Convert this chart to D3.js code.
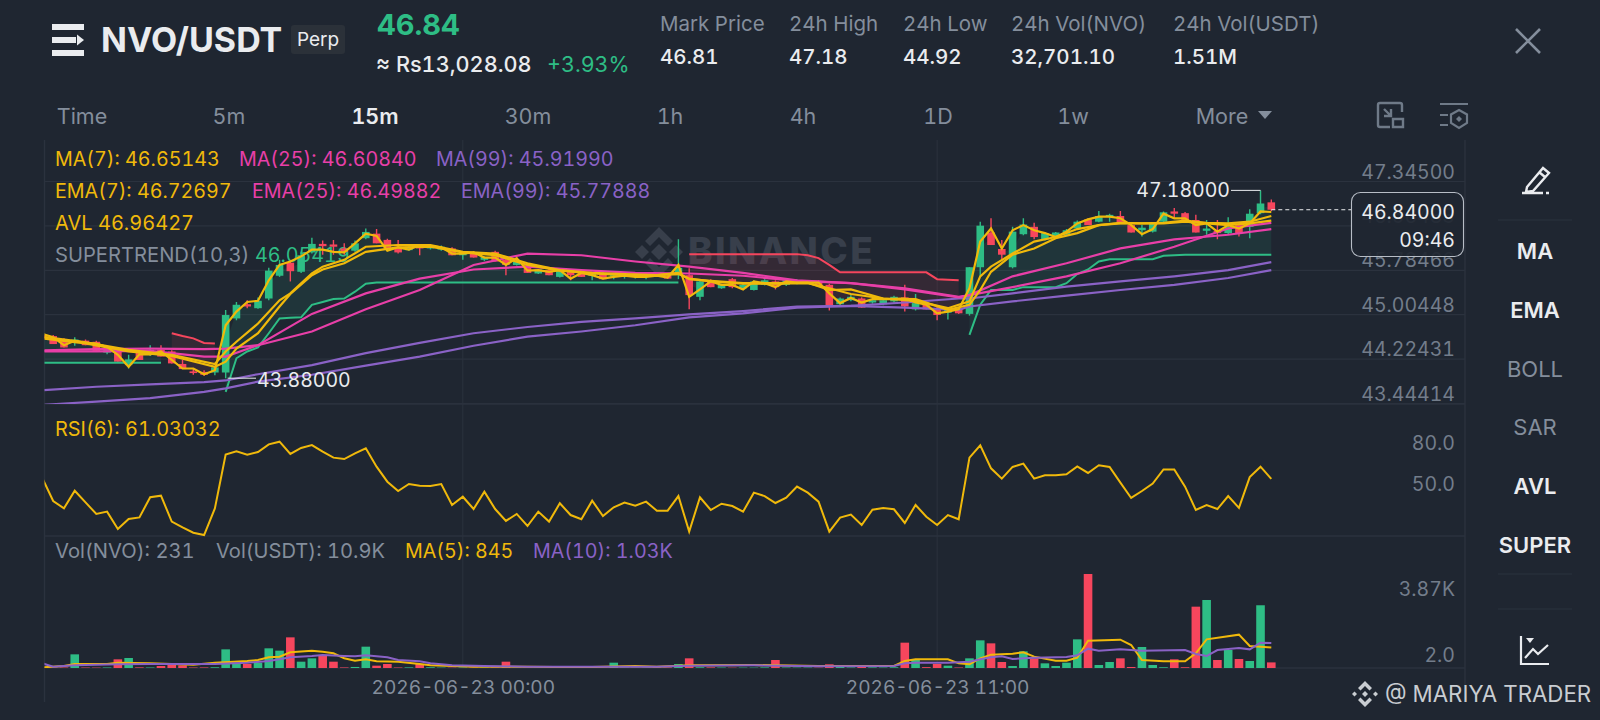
<!DOCTYPE html>
<html>
<head>
<meta charset="utf-8">
<style>
  html, body { margin: 0; padding: 0; background: #1f2631; }
  svg { display: block; font-family: Inter, "Noto Sans", sans-serif; font-variant-numeric: tabular-nums; }
  .domain { display: none; }
</style>
</head>
<body>
<svg id="chart" width="1600" height="720"></svg>
<script src="https://cdn.jsdelivr.net/npm/d3@7"></script>
<script>
// Candles, one per 15 minutes
var opens = [
  44.64,44.62,44.55,44.50,44.54,44.52,44.33,44.38,44.11,44.33,
  44.29,44.38,44.35,44.13,44.00,43.99,43.98,43.98,44.93,45.18,
  45.11,45.28,45.68,45.91,45.75,46.09,46.24,46.23,46.16,46.12,
  46.34,46.42,46.31,46.19,46.13,46.22,46.16,46.14,46.16,46.04,
  46.09,45.96,46.10,45.96,45.87,45.89,45.72,45.78,45.66,45.77,
  45.75,45.68,45.72,45.67,45.66,45.66,45.66,45.71,45.69,45.69,
  45.69,45.31,45.60,45.46,45.62,45.46,45.43,45.52,45.58,45.52,
  45.55,45.55,45.58,45.52,45.18,45.25,45.28,45.21,45.18,45.23,
  45.30,45.09,45.20,45.11,45.03,45.11,45.01,45.83,46.44,46.15,
  45.83,46.41,46.54,46.32,46.36,46.40,46.51,46.67,46.63,46.72,
  46.73,46.57,46.48,46.455,46.63,46.81,46.78,46.66,46.47,46.47,
  46.43,46.57,46.54,46.78,46.97];
var highs = [
  44.66,44.64,44.58,44.60,44.56,44.54,44.38,44.40,44.29,44.36,
  44.46,44.46,44.37,44.20,44.05,44.02,44.10,45.08,45.22,45.25,
  45.30,45.82,45.96,45.93,46.10,46.35,46.30,46.31,46.25,46.30,
  46.51,46.50,46.33,46.31,46.20,46.24,46.22,46.21,46.18,46.10,
  46.11,46.02,46.12,45.98,45.95,45.90,45.80,45.80,45.80,45.79,
  45.77,45.73,45.74,45.70,45.70,45.70,45.70,45.73,45.71,46.32,
  45.81,45.60,45.62,45.54,45.64,45.53,45.60,45.62,45.60,45.62,
  45.62,45.60,45.60,45.54,45.30,45.34,45.30,45.27,45.26,45.33,
  45.52,45.36,45.22,45.13,45.10,45.13,45.83,46.63,46.69,46.31,
  46.54,46.69,46.61,46.44,46.45,46.50,46.65,46.69,46.82,46.77,
  46.82,46.59,46.57,46.62,46.81,46.87,46.80,46.75,46.66,46.66,
  46.71,46.59,46.85,47.18,47.02];
var lows = [
  44.55,44.48,44.42,44.45,44.46,44.36,44.30,44.17,44.05,44.20,
  44.27,44.26,44.14,44.04,43.94,43.92,43.93,43.88,44.90,45.11,
  45.10,45.25,45.66,45.58,45.73,46.07,46.05,46.05,46.05,46.10,
  46.32,46.25,46.16,46.07,46.12,46.04,46.14,46.12,46.04,45.96,
  46.00,45.94,45.93,45.69,45.86,45.73,45.71,45.69,45.65,45.60,
  45.66,45.60,45.62,45.62,45.63,45.63,45.62,45.67,45.63,45.62,
  45.09,45.25,45.48,45.45,45.46,45.45,45.42,45.51,45.44,45.50,
  45.53,45.54,45.50,45.07,45.16,45.23,45.12,45.19,45.16,45.21,
  45.05,45.07,45.09,44.90,44.91,45.01,44.98,45.67,46.22,45.96,
  45.81,46.39,46.32,46.30,46.34,46.38,46.49,46.57,46.62,46.63,
  46.60,46.44,46.37,46.44,46.62,46.69,46.61,46.44,46.40,46.32,
  46.41,46.37,46.34,46.76,46.82];
var closes = [
  44.58,44.48,44.42,44.56,44.46,44.36,44.38,44.17,44.21,44.20,
  44.38,44.26,44.14,44.04,43.97,43.94,44.07,44.99,45.17,45.14,
  45.24,45.77,45.87,45.76,46.04,46.24,46.20,46.19,46.10,46.25,
  46.45,46.25,46.16,46.09,46.19,46.16,46.22,46.19,46.04,46.10,
  46.00,46.01,45.93,45.87,45.93,45.73,45.79,45.69,45.78,45.69,
  45.66,45.72,45.62,45.69,45.69,45.69,45.69,45.67,45.63,45.82,
  45.34,45.58,45.48,45.52,45.48,45.52,45.58,45.60,45.48,45.60,
  45.58,45.58,45.52,45.15,45.28,45.31,45.12,45.25,45.25,45.31,
  45.14,45.20,45.09,44.99,45.08,45.02,45.83,46.56,46.22,46.05,
  46.455,46.58,46.36,46.43,46.44,46.48,46.63,46.57,46.73,46.75,
  46.60,46.44,46.525,46.61,46.795,46.77,46.61,46.44,46.51,46.43,
  46.54,46.43,46.77,46.95,46.84];

// Average line, one per candle
var avl = [
  44.66,44.60,44.46,44.54,44.50,44.49,44.43,44.29,44.08,44.30,
  44.30,44.35,44.20,44.05,44.05,43.95,44.02,44.81,45.05,45.22,
  45.24,45.60,45.87,45.93,46.02,46.14,46.14,46.10,46.09,46.25,
  46.42,46.38,46.12,46.18,46.14,46.22,46.20,46.18,46.07,46.07,
  46.09,46.00,46.00,45.87,45.99,45.77,45.78,45.75,45.78,45.63,
  45.73,45.69,45.63,45.66,45.68,45.66,45.66,45.68,45.65,45.87,
  45.31,45.44,45.58,45.52,45.52,45.44,45.58,45.55,45.48,45.58,
  45.56,45.56,45.56,45.37,45.20,45.29,45.21,45.27,45.27,45.27,
  45.28,45.21,45.17,45.02,45.05,45.09,45.46,46.28,46.51,46.16,
  46.48,46.57,46.48,46.43,46.36,46.455,46.60,46.67,46.72,46.72,
  46.69,46.57,46.41,46.50,46.77,46.69,46.69,46.57,46.60,46.455,
  46.57,46.51,46.60,46.81,46.80];

// Fast averages, read at these candles
var fastIdx = [0,4,8,12,16,17,18,20,22,23,25,26,28,30,33,36,39,42,45,48,51,54,57,59,60,
  62,65,68,71,73,75,78,81,84,86,87,88,90,92,94,96,98,100,102,104,106,108,110,112,114];
var ma7 = [44.58,44.49,44.35,44.27,44.08,44.17,44.40,44.67,45.14,45.36,45.69,45.79,45.90,46.10,46.18,46.19,46.09,46.04,45.87,45.77,45.72,45.69,45.69,45.71,45.63,
  45.58,45.54,45.54,45.55,45.46,45.36,45.28,45.27,45.08,45.17,45.43,45.75,46.05,46.16,46.34,46.43,46.57,46.60,46.60,46.60,46.63,46.60,46.57,46.60,46.65];
var ema7 = [44.61,44.51,44.38,44.29,44.13,44.35,44.52,44.84,45.25,45.37,45.72,45.84,45.96,46.19,46.22,46.22,46.10,46.07,45.90,45.78,45.73,45.71,45.69,45.73,45.62,
  45.59,45.55,45.55,45.56,45.43,45.44,45.28,45.24,45.11,45.23,45.67,45.84,46.07,46.28,46.36,46.50,46.57,46.61,46.60,46.61,46.65,46.61,46.60,46.63,46.73];

// Slow averages, read at these candles
var slowIdx = [0,5,10,15,17,20,25,30,35,40,45,50,55,60,65,70,75,80,85,86,90,95,100,105,110,114];
var ma25 = [44.35,44.35,44.36,44.26,44.26,44.46,44.70,45.09,45.43,45.87,46.07,46.04,45.93,45.84,45.73,45.60,45.55,45.46,45.31,45.34,45.48,45.67,45.90,46.19,46.51,46.61];
var ema25 = [44.37,44.39,44.40,44.39,44.40,44.46,45.01,45.37,45.63,45.79,45.84,45.78,45.73,45.72,45.68,45.59,45.55,45.44,45.30,45.34,45.67,45.90,46.16,46.32,46.40,46.50];
var ma99 = [43.41,43.47,43.53,43.64,43.70,43.82,43.94,44.10,44.26,44.45,44.61,44.70,44.81,44.95,45.02,45.12,45.15,45.21,45.28,45.28,45.37,45.49,45.58,45.67,45.78,45.92];
var ema99 = [43.67,43.73,43.77,43.81,43.84,43.95,44.11,44.32,44.50,44.67,44.78,44.87,44.93,45.00,45.06,45.14,45.15,45.12,45.08,45.14,45.23,45.33,45.43,45.52,45.64,45.78];

// Supertrend, one per candle, null where that side is not drawn
var stUp = [
  44.15,44.15,44.15,44.15,44.15,44.15,44.15,44.15,44.15,44.15,
  44.15,44.15,null,null,null,null,null,43.64,44.23,44.35,
  44.42,44.67,44.93,44.94,44.95,45.17,45.22,45.27,45.28,45.40,
  45.54,45.56,45.56,45.56,45.56,45.56,45.56,45.56,45.56,45.56,
  45.56,45.56,45.56,45.56,45.56,45.56,45.56,45.56,45.56,45.56,
  45.56,45.56,45.56,45.56,45.56,45.56,45.56,45.56,45.56,45.56,
  null,null,null,null,null,null,null,null,null,null,
  null,null,null,null,null,null,null,null,null,null,
  null,null,null,null,null,null,44.64,45.17,45.43,45.43,
  45.43,45.48,45.48,45.48,45.48,45.55,45.71,45.79,45.93,45.97,
  45.97,45.97,45.97,45.97,46.03,46.04,46.05,46.05,46.05,46.05,
  46.05,46.05,46.05,46.05,46.05];
var stDown = [
  null,null,null,null,null,null,null,null,null,null,
  null,null,44.67,44.62,44.58,44.50,44.49,null,null,null,
  null,null,null,null,null,null,null,null,null,null,
  null,null,null,null,null,null,null,null,null,null,
  null,null,null,null,null,null,null,null,null,null,
  null,null,null,null,null,null,null,null,null,null,
  46.06,46.06,46.06,46.06,46.06,46.06,46.06,46.06,46.06,46.06,
  46.06,46.04,45.99,45.87,45.74,45.74,45.74,45.74,45.74,45.74,
  45.74,45.74,45.74,45.62,45.61,45.60,null,null,null,null,
  null,null,null,null,null,null,null,null,null,null,
  null,null,null,null,null,null,null,null,null,null,
  null,null,null,null,null];

var rsi = [
  61.5,44.9,39.5,52.4,43.9,35.4,37.1,24.4,31.7,32.9,
  47.6,48.8,29.8,25.6,21.7,20.0,39.5,78.8,81.2,78.8,
  80.7,86.3,88.3,79.3,83.7,85.8,81.0,76.6,75.6,79.8,
  83.4,70.0,59.0,52.2,57.3,56.1,55.9,57.3,41.9,48.0,
  39.0,51.7,39.0,30.3,35.4,26.6,37.1,29.8,43.2,34.6,
  31.5,45.1,33.9,40.3,43.7,41.5,44.4,37.8,37.8,48.5,
  22.5,47.6,38.3,42.9,41.2,37.1,51.0,48.5,43.4,47.3,
  55.4,51.0,44.4,22.5,32.7,34.9,27.3,38.5,39.8,38.8,
  28.8,41.96,33.4,27.3,34.6,31.5,76.6,85.6,68.8,61.2,
  69.8,72.2,61.2,63.7,63.7,64.4,70.2,65.4,71.0,69.8,
  58.3,47.1,52.2,57.6,68.0,68.0,55.4,38.3,41.96,39.0,
  48.5,39.8,62.4,70.0,61.03];

var volumes = [
  25,15,20,562,18,15,20,357,412,25,
  20,82,150,110,18,22,30,768,206,165,
  219,810,714,1262,260,398,535,260,22,43,
  878,96,165,20,25,165,30,15,12,18,
  14,16,20,260,12,14,16,18,15,12,
  14,20,16,219,18,12,14,16,20,165,
  398,30,25,18,12,15,14,25,329,18,
  14,16,12,152,40,20,54,25,18,30,
  1043,357,35,165,96,20,398,1139,1015,247,
  82,686,398,192,82,219,1180,3870,124,247,
  398,41,865,124,30,357,30,2525,2800,329,
  741,370,288,2583,231];
var volMa5Idx = [0,2,3,6,7,10,14,16,19,20,21,22,23,25,26,27,28,29,30,31,33,35,36,40,45,50,55,57,60,66,72,79,80,81,84,85,86,87,88,90,91,92,94,95,96,97,100,101,102,104,106,107,108,111,112,113,114];
var volMa5 = [27,82,165,165,220,192,137,220,288,329,439,467,645,714,672,604,398,302,357,274,261,165,110,55,55,27,82,55,110,124,82,82,288,357,357,192,151,398,549,590,645,467,302,302,425,1125,1166,947,329,274,274,604,1180,1372,906,878,845];
var volMa10Idx = [0,1,3,7,10,16,19,21,22,23,25,26,28,29,30,32,33,35,36,38,41,45,57,60,66,72,79,80,81,84,86,87,88,89,90,92,95,96,97,98,100,102,106,107,108,109,111,112,113,114];
var volMa10 = [192,55,110,151,165,165,220,288,357,439,494,535,494,480,522,439,329,274,192,110,82,55,55,96,110,69,82,192,220,220,261,357,439,480,370,425,453,522,796,714,768,714,741,576,494,741,823,768,1043,1030];

// Tick labels
var priceTicks = [47.345, 46.56483, 45.78466, 45.00448, 44.22431, 43.44414];
var rsiTicks = [80, 50];
var volTicks = [3870, 2];
var volTickLabels = ["3.87K", "2.0"];
var timeTicks = [39, 83];
var timeTickLabels = ["2026-06-23 00:00", "2026-06-23 11:00"];
var tabs = ["Time", "5m", "15m", "30m", "1h", "4h", "1D", "1w"];
var tabCenters = [82, 229, 375, 528, 670, 803, 938, 1073];
var stats = [
  { label: "Mark Price", value: "46.81", x: 660 },
  { label: "24h High", value: "47.18", x: 789 },
  { label: "24h Low", value: "44.92", x: 903 },
  { label: "24h Vol(NVO)", value: "32,701.10", x: 1011 },
  { label: "24h Vol(USDT)", value: "1.51M", x: 1173 }
];
var sideItems = [
  { text: "MA", y: 259, on: true }, { text: "EMA", y: 318, on: true },
  { text: "BOLL", y: 377, on: false }, { text: "SAR", y: 435, on: false },
  { text: "AVL", y: 494, on: true }, { text: "SUPER", y: 553, on: true }
];

var GREEN = "#2ebd85", RED = "#f6465d", YELLOW = "#f0b90b", PINK = "#e83fa8", PURPLE = "#8a62c6";
var GREY = "#848e9c", WHITE = "#eaecef", GRID = "#2b323e";

var plotLeft = 44.5, plotRight = 1465;
var n = closes.length;
var svg = d3.select("#chart");

// Scales
var x = d3.scaleLinear().domain([0, n - 1]).range([42.4, 1271.3]);
var y = d3.scaleLinear().domain([47.345, 43.44414]).range([181, 403]);
var yRsi = d3.scaleLinear().domain([80, 50]).range([453, 494]);
var yVol = d3.scaleLinear().domain([0, 3870]).range([668, 574]);

var candleW = 7.6;
var TICK = 19.5;

function text(parent, t, px, py, size, fill, weight, anchor) {
  return parent.append("text").attr("x", px).attr("y", py).attr("font-size", size)
    .attr("fill", fill).attr("font-weight", weight || 400)
    .attr("text-anchor", anchor || "start").text(t);
}

function knots(idx, vals) {
  return idx.map(function(d, i) { return { i: d, v: vals[i] }; });
}

// Clip areas for the panels
var defs = svg.append("defs");
defs.append("clipPath").attr("id", "clip-main").append("rect")
  .attr("x", plotLeft).attr("y", 140).attr("width", plotRight - plotLeft).attr("height", 264);
defs.append("clipPath").attr("id", "clip-low").append("rect")
  .attr("x", plotLeft).attr("y", 404).attr("width", plotRight - plotLeft).attr("height", 264);

// Price axis and grid
var gridPrice = svg.append("g").attr("transform", "translate(" + plotRight + ",0)")
  .call(d3.axisLeft(y).tickValues(priceTicks).tickSize(plotRight - plotLeft)
    .tickFormat(function(d) { return d.toFixed(5); }));
gridPrice.selectAll("line").attr("stroke", GRID).attr("stroke-width", 1.2);
gridPrice.selectAll("text").attr("x", -10).attr("dy", -3)
  .attr("font-size", TICK).attr("font-family", "Inter").attr("fill", "#737d8b");

// RSI axis labels
var axisRsi = svg.append("g").attr("transform", "translate(" + plotRight + ",0)")
  .call(d3.axisLeft(yRsi).tickValues(rsiTicks).tickSize(0).tickFormat(function(d) { return d.toFixed(1); }));
axisRsi.selectAll("text").attr("x", -10).attr("dy", -4)
  .attr("font-size", TICK).attr("font-family", "Inter").attr("fill", "#737d8b");

// Volume axis labels
var axisVol = svg.append("g").attr("transform", "translate(" + plotRight + ",0)")
  .call(d3.axisLeft(yVol).tickValues(volTicks).tickSize(0).tickFormat(function(d, i) { return volTickLabels[i]; }));
axisVol.selectAll("text").attr("x", -10).attr("dy", function(d, i) { return i === 0 ? 21 : -6; })
  .attr("font-size", TICK).attr("font-family", "Inter").attr("fill", "#737d8b");

// Time axis with its vertical grid lines
var axisTime = svg.append("g").attr("transform", "translate(0,668)")
  .call(d3.axisBottom(x).tickValues(timeTicks).tickSize(0).tickFormat(function(d, i) { return timeTickLabels[i]; }));
axisTime.selectAll("text").attr("y", 19).attr("dy", 7)
  .attr("font-size", 19.1).attr("font-family", "Inter").attr("fill", GREY);
svg.append("g").selectAll("line").data(timeTicks).enter().append("line")
  .attr("x1", function(d) { return x(d); }).attr("x2", function(d) { return x(d); })
  .attr("y1", 140).attr("y2", 668).attr("stroke", GRID).attr("stroke-width", 1);

// Panel frame lines
svg.append("g").selectAll("line").data([404, 536, 668]).enter().append("line")
  .attr("x1", plotLeft).attr("x2", plotRight).attr("y1", function(d) { return d; }).attr("y2", function(d) { return d; })
  .attr("stroke", GRID).attr("stroke-width", 1.5);
svg.append("line").attr("x1", plotLeft).attr("x2", plotLeft).attr("y1", 140).attr("y2", 702).attr("stroke", GRID).attr("stroke-width", 1.4);
svg.append("line").attr("x1", plotRight).attr("x2", plotRight).attr("y1", 140).attr("y2", 686).attr("stroke", GRID).attr("stroke-width", 1.4);

// BINANCE watermark behind the candles
var mark = svg.append("g").attr("fill", "#383f4b");
mark.append("g").attr("transform", "translate(659,252)").selectAll("path")
  .data(["M0,-8L8,0L0,8L-8,0Z", "M-24,0L-17,-7L-10,0L-17,7Z", "M24,0L17,-7L10,0L17,7Z",
    "M0,-25L14,-11L9,-6L0,-15L-9,-6L-14,-11Z", "M0,25L14,11L9,6L0,15L-9,6L-14,11Z"])
  .enter().append("path").attr("d", function(d) { return d; });
text(mark, "BINANCE", 688, 264, 37, "#383f4b", 800).attr("letter-spacing", 2.4);

// Legend text, drawn under the marks
var legend = svg.append("g");
var LEG = 19.7;
text(legend, "MA(7): 46.65143", 55, 166, LEG, YELLOW);
text(legend, "MA(25): 46.60840", 239, 166, LEG, PINK);
text(legend, "MA(99): 45.91990", 436, 166, LEG, PURPLE);
text(legend, "EMA(7): 46.72697", 55, 198, LEG, YELLOW);
text(legend, "EMA(25): 46.49882", 252, 198, LEG, PINK);
text(legend, "EMA(99): 45.77888", 461, 198, LEG, PURPLE);
text(legend, "AVL 46.96427", 55, 230, 20, YELLOW);
text(legend, "SUPERTREND(10,3)", 55, 262, 20.2, GREY);
text(legend, "46.05419", 255, 262, LEG, GREEN);
text(legend, "RSI(6): 61.03032", 55, 436, 19.9, YELLOW);
text(legend, "Vol(NVO): 231", 55, 558, 20.2, GREY);
text(legend, "Vol(USDT): 10.9K", 216, 558, 20.1, GREY);
text(legend, "MA(5): 845", 405, 558, LEG, YELLOW);
text(legend, "MA(10): 1.03K", 533, 558, LEG, PURPLE);

// Main panel
var main = svg.append("g").attr("clip-path", "url(#clip-main)");
var idxAll = d3.range(n);

function mid(i) { return (opens[i] + closes[i]) / 2; }

function trendFill(series, color) {
  main.append("path").datum(idxAll)
    .attr("fill", color)
    .attr("d", d3.area()
      .defined(function(i) { return series[i] !== null; })
      .x(function(i) { return x(i); })
      .y0(function(i) { return y(series[i]); })
      .y1(function(i) { return y(mid(i)); }));
}
trendFill(stUp, "rgba(46,189,133,0.1)");
trendFill(stDown, "rgba(246,70,93,0.1)");

// Wicks and bodies
main.selectAll(".wick").data(idxAll).enter().append("line").attr("class", "wick")
  .attr("x1", function(i) { return x(i); }).attr("x2", function(i) { return x(i); })
  .attr("y1", function(i) { return y(highs[i]); }).attr("y2", function(i) { return y(lows[i]); })
  .attr("stroke", function(i) { return closes[i] >= opens[i] ? GREEN : RED; })
  .attr("stroke-width", 1.4);
main.selectAll(".body").data(idxAll).enter().append("rect").attr("class", "body")
  .attr("x", function(i) { return x(i) - candleW / 2; })
  .attr("width", candleW)
  .attr("y", function(i) { return y(Math.max(opens[i], closes[i])); })
  .attr("height", function(i) { return Math.max(1.5, Math.abs(y(opens[i]) - y(closes[i]))); })
  .attr("fill", function(i) { return closes[i] >= opens[i] ? GREEN : RED; });

function trendLine(series, color) {
  main.append("path").datum(idxAll)
    .attr("fill", "none").attr("stroke", color).attr("stroke-width", 2)
    .attr("d", d3.line()
      .defined(function(i) { return series[i] !== null; })
      .x(function(i) { return x(i); })
      .y(function(i) { return y(series[i]); }));
}
trendLine(stUp, GREEN);
trendLine(stDown, RED);

var knotLine = d3.line().x(function(d) { return x(d.i); }).y(function(d) { return y(d.v); });

function priceLine(data, color, w) {
  main.append("path").datum(data).attr("fill", "none")
    .attr("stroke", color).attr("stroke-width", w).attr("d", knotLine);
}
priceLine(knots(slowIdx, ma99), PURPLE, 2.2);
priceLine(knots(slowIdx, ema99), PURPLE, 2.2);
priceLine(knots(slowIdx, ma25), PINK, 2.2);
priceLine(knots(slowIdx, ema25), PINK, 2.2);
priceLine(knots(fastIdx, ma7), YELLOW, 2.2);
priceLine(knots(fastIdx, ema7), YELLOW, 2.2);
priceLine(idxAll.map(function(i) { return { i: i, v: avl[i] }; }), YELLOW, 2.2);

// High and low labels
var iHigh = 113, iLow = 17;
svg.append("path").attr("fill", "none").attr("stroke", WHITE).attr("stroke-width", 1)
  .attr("d", "M1231," + y(highs[iHigh]) + "H" + x(iHigh));
text(svg, "47.18000", 1230, y(highs[iHigh]) + 7, TICK, WHITE, 400, "end");
svg.append("line").attr("x1", x(iLow) + 2).attr("x2", 256)
  .attr("y1", y(lows[iLow])).attr("y2", y(lows[iLow])).attr("stroke", WHITE).attr("stroke-width", 1);
text(svg, "43.88000", 257, y(lows[iLow]) + 9, TICK, WHITE);

// Last price line and box
svg.append("line").attr("x1", x(n - 1)).attr("x2", 1352)
  .attr("y1", y(closes[n - 1])).attr("y2", y(closes[n - 1]))
  .attr("stroke", WHITE).attr("stroke-width", 1).attr("stroke-dasharray", "4,3");
svg.append("rect").attr("x", 1351.5).attr("y", 192.5).attr("width", 112).attr("height", 64).attr("rx", 9)
  .attr("fill", "#1f2631").attr("fill-opacity", 0.92).attr("stroke", "#b7bdc6").attr("stroke-width", 1.1);
text(svg, "46.84000", 1455, 219, TICK, WHITE, 400, "end");
text(svg, "09:46", 1455, 247, TICK, WHITE, 400, "end");

// RSI panel
var low = svg.append("g").attr("clip-path", "url(#clip-low)");
low.append("path").datum(rsi).attr("fill", "none").attr("stroke", YELLOW).attr("stroke-width", 2)
  .attr("d", d3.line().x(function(d, i) { return x(i); }).y(function(d) { return yRsi(d); }));

// Volume panel
low.selectAll(".vol").data(volumes).enter().append("rect").attr("class", "vol")
  .attr("x", function(d, i) { return x(i) - candleW / 2 - 0.5; })
  .attr("width", candleW + 1)
  .attr("y", function(d) { return yVol(d); })
  .attr("height", function(d) { return yVol(0) - yVol(d); })
  .attr("fill", function(d, i) { return closes[i] >= opens[i] ? GREEN : RED; });
var volLine = d3.line().x(function(d) { return x(d.i); }).y(function(d) { return yVol(d.v); });
low.append("path").datum(knots(volMa5Idx, volMa5)).attr("fill", "none")
  .attr("stroke", YELLOW).attr("stroke-width", 2).attr("d", volLine);
low.append("path").datum(knots(volMa10Idx, volMa10)).attr("fill", "none")
  .attr("stroke", PURPLE).attr("stroke-width", 2).attr("d", volLine);

// Header
var head = svg.append("g");
head.append("g").attr("fill", WHITE).selectAll("path")
  .data(["M52,24H84V30H52Z", "M52,50H84V56H52Z", "M52,37H76V43H52Z", "M77,34.5L84,40L77,45.5Z"])
  .enter().append("path").attr("d", function(d) { return d; });
text(head, "NVO/USDT", 101, 52, 34, WHITE, 700);
head.append("rect").attr("x", 291).attr("y", 25).attr("width", 54).attr("height", 29).attr("rx", 3).attr("fill", "#2b3139");
text(head, "Perp", 318, 46, 19, WHITE, 400, "middle");
text(head, "46.84", 377, 35, 29, GREEN, 700);
text(head, "\u2248 Rs13,028.08", 376, 72, 21.7, WHITE, 500);
text(head, "+3.93%", 547, 72, 21.5, GREEN, 400);
head.selectAll(".stat-l").data(stats).enter().append("text").attr("class", "stat-l")
  .attr("x", function(d) { return d.x; }).attr("y", 31).attr("font-size", 20.5).attr("fill", GREY)
  .text(function(d) { return d.label; });
head.selectAll(".stat-v").data(stats).enter().append("text").attr("class", "stat-v")
  .attr("x", function(d) { return d.x; }).attr("y", 64).attr("font-size", 20.5).attr("font-weight", 500).attr("fill", WHITE)
  .text(function(d) { return d.value; });
head.append("path").attr("d", "M1516,29L1540,53M1540,29L1516,53").attr("fill", "none").attr("stroke", GREY).attr("stroke-width", 2.6);

// Interval tabs
head.selectAll(".tab").data(tabs).enter().append("text").attr("class", "tab")
  .attr("x", function(d, i) { return tabCenters[i]; }).attr("y", 124)
  .attr("text-anchor", "middle").attr("font-size", 21.5)
  .attr("font-weight", function(d) { return d === "15m" ? 600 : 400; })
  .attr("fill", function(d) { return d === "15m" ? WHITE : GREY; })
  .text(function(d) { return d; });
text(head, "More", 1222, 124, 21.5, GREY, 400, "middle");
head.append("path").attr("d", "M1258,111H1272L1265,119Z").attr("fill", GREY);

// Tool icons next to the tabs
head.append("path").attr("fill", "none").attr("stroke", "#6f7a88").attr("stroke-width", 2.4)
  .attr("d", "M1390,127H1380a2,2 0 0 1 -2,-2V105a2,2 0 0 1 2,-2H1400a2,2 0 0 1 2,2V112M1384,109L1391,116M1384,116H1391V109M1393,119H1403V127H1393Z");
head.append("path").attr("fill", "none").attr("stroke", "#6f7a88").attr("stroke-width", 2.2)
  .attr("d", "M1440,104H1468M1440,115H1448M1440,125H1448M1459,110L1467,114.5V123L1459,128L1451,123V114.5Z");
head.append("path").attr("fill", "#6f7a88").attr("d", "M1459,116L1462,119L1459,122L1456,119Z");

// Right side bar
var side = svg.append("g");
side.append("path").attr("fill", "none").attr("stroke", WHITE).attr("stroke-width", 2.4)
  .attr("d", "M1527,187L1543,168L1549,173L1533,191L1526,192ZM1539,172L1545,177");
side.append("path").attr("fill", "none").attr("stroke", WHITE).attr("stroke-width", 2.4)
  .attr("d", "M1522,193H1543M1546,193H1549");
side.selectAll(".sep").data([220, 574, 609]).enter().append("line").attr("class", "sep")
  .attr("x1", 1498).attr("x2", 1572).attr("y1", function(d) { return d; }).attr("y2", function(d) { return d; })
  .attr("stroke", GRID).attr("stroke-width", 1.2);
side.selectAll(".item").data(sideItems).enter().append("text").attr("class", "item")
  .attr("x", 1535).attr("y", function(d) { return d.y; }).attr("text-anchor", "middle")
  .attr("font-size", 22).attr("font-weight", function(d) { return d.on ? 600 : 400; })
  .attr("fill", function(d) { return d.on ? WHITE : GREY; })
  .text(function(d) { return d.text; });
side.append("path").attr("fill", "none").attr("stroke", WHITE).attr("stroke-width", 2.2)
  .attr("d", "M1521,636V664H1549M1525,658L1533,649L1538,654L1548,645");
side.append("path").attr("fill", WHITE).attr("d", "M1526,638H1534L1530,643Z");

// Author watermark
var tag = svg.append("g").attr("fill", "#c9cdd2");
tag.append("g").attr("transform", "translate(1365,694)").selectAll("path")
  .data(["M0,-3L3,0L0,3L-3,0Z", "M-13,0L-10.5,-2.5L-8,0L-10.5,2.5Z", "M13,0L10.5,-2.5L8,0L10.5,2.5Z",
    "M0,-13L7,-6L4.5,-3.5L0,-8L-4.5,-3.5L-7,-6Z", "M0,13L7,6L4.5,3.5L0,8L-4.5,3.5L-7,6Z"])
  .enter().append("path").attr("d", function(d) { return d; });
text(tag, "@ MARIYA TRADER", 1385, 702, 22.3, "#c9cdd2");
</script>
</body>
</html>
